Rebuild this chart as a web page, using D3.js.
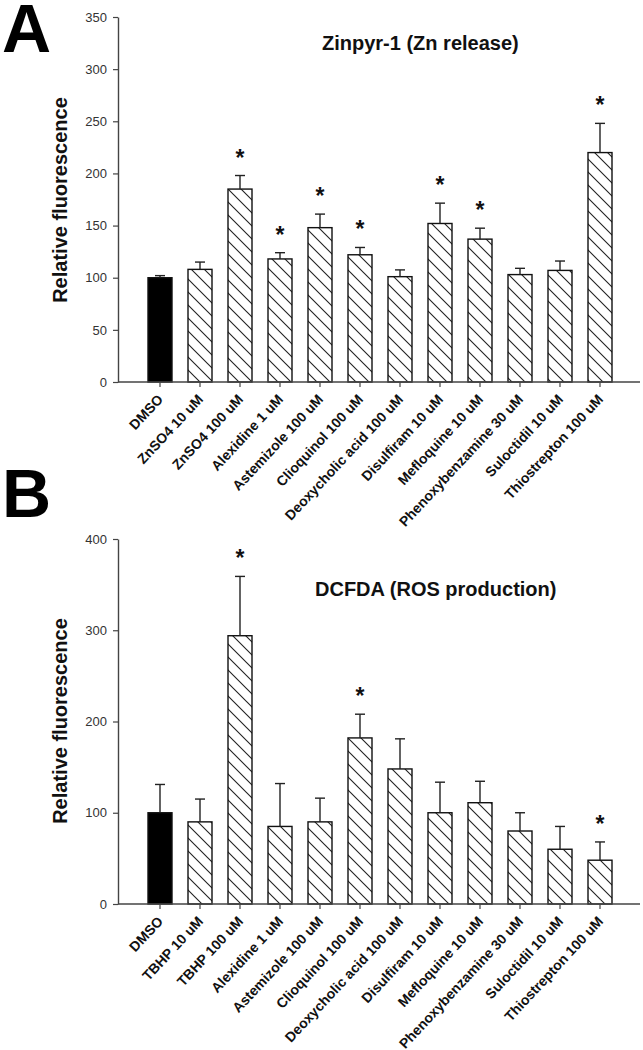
<!DOCTYPE html>
<html>
<head>
<meta charset="utf-8">
<script src="https://cdn.jsdelivr.net/npm/d3@7"></script>
<style>
  html, body { margin: 0; padding: 0; background: #fff; }
  svg { display: block; font-family: "Liberation Sans", Arial, sans-serif; }
</style>
</head>
<body>
<svg id="chart" width="643" height="1050"></svg>
<script>
// ---------- DATA ----------
const categoriesA = ["DMSO", "ZnSO4 10 uM", "ZnSO4 100 uM", "Alexidine 1 uM", "Astemizole 100 uM",
  "Clioquinol 100 uM", "Deoxycholic acid 100 uM", "Disulfiram 10 uM", "Mefloquine 10 uM",
  "Phenoxybenzamine 30 uM", "Suloctidil 10 uM", "Thiostrepton 100 uM"];
const valuesA = [100, 108, 185, 118, 148, 122, 101, 152, 137, 103, 107, 220];
const errorsA = [2, 7, 13, 6, 13, 7, 6.5, 19.5, 10.5, 6, 9, 28];
const sigA = [false, false, true, true, true, true, false, true, true, false, false, true];
const ticksA = [0, 50, 100, 150, 200, 250, 300, 350];
const titleA = "Zinpyr-1 (Zn release)";

const categoriesB = ["DMSO", "TBHP 10 uM", "TBHP 100 uM", "Alexidine 1 uM", "Astemizole 100 uM",
  "Clioquinol 100 uM", "Deoxycholic acid 100 uM", "Disulfiram 10 uM", "Mefloquine 10 uM",
  "Phenoxybenzamine 30 uM", "Suloctidil 10 uM", "Thiostrepton 100 uM"];
const valuesB = [100, 90, 294, 85, 90, 182, 148, 100, 111, 80, 60, 48];
const errorsB = [31, 25, 65, 47, 26, 26, 33, 33.5, 23.5, 20, 25, 20];
const sigB = [false, false, true, false, false, true, false, false, false, false, false, true];
const ticksB = [0, 100, 200, 300, 400];
const titleB = "DCFDA (ROS production)";

const yLabel = "Relative fluorescence";

// ---------- DRAW ----------
const svg = d3.select("#chart");
const defs = svg.append("defs");
const pat = defs.append("pattern")
  .attr("id", "hatch")
  .attr("patternUnits", "userSpaceOnUse")
  .attr("width", 13).attr("height", 13);
pat.append("rect").attr("width", 13).attr("height", 13).attr("fill", "#fff");
pat.append("path")
  .attr("d", "M-2,-2 L15,15 M-2,11 L2,15 M11,-2 L15,2")
  .attr("stroke", "#222").attr("stroke-width", 1.1).attr("fill", "none");

function panel(opts) {
  const { cats, vals, errs, sig, ticks, title, letter, yMax,
          top, bottom, titleX, titleY, labelY, letterY } = opts;
  const axisX = 118, axisRight = 640;
  const g = svg.append("g");

  const y = d3.scaleLinear().domain([0, yMax]).range([bottom, top]);
  const x = d3.scaleBand().domain(cats).range([140, 620]).paddingInner(0.4).paddingOuter(0.2);
  const cx = (d) => x(d) + x.bandwidth() / 2;

  // bars
  g.selectAll("rect.bar").data(cats).enter().append("rect")
    .attr("class", "bar")
    .attr("x", (d) => cx(d) - 12)
    .attr("width", 24)
    .attr("y", (d, i) => y(vals[i]))
    .attr("height", (d, i) => y(0) - y(vals[i]))
    .attr("fill", (d, i) => i === 0 ? "#000" : "url(#hatch)")
    .attr("stroke", "#111").attr("stroke-width", 1.4);

  // error bars (upper only)
  const eb = g.selectAll("g.err").data(cats).enter().append("g").attr("class", "err");
  eb.append("line")
    .attr("x1", cx).attr("x2", cx)
    .attr("y1", (d, i) => y(vals[i])).attr("y2", (d, i) => y(vals[i] + errs[i]))
    .attr("stroke", "#222").attr("stroke-width", 1.4);
  eb.append("line")
    .attr("x1", (d) => cx(d) - 5).attr("x2", (d) => cx(d) + 5)
    .attr("y1", (d, i) => y(vals[i] + errs[i])).attr("y2", (d, i) => y(vals[i] + errs[i]))
    .attr("stroke", "#222").attr("stroke-width", 1.4);

  // significance stars
  g.selectAll("text.star").data(cats.filter((d, i) => sig[i])).enter().append("text")
    .attr("class", "star")
    .attr("x", cx)
    .attr("y", (d) => { const i = cats.indexOf(d); return y(vals[i] + errs[i]) - 10; })
    .attr("text-anchor", "middle")
    .attr("font-size", 23).attr("font-weight", "bold").attr("fill", "#111")
    .text("*");

  // y axis
  const ya = g.append("g").attr("transform", `translate(${axisX},0)`)
    .call(d3.axisLeft(y).tickValues(ticks).tickSize(5).tickPadding(6).tickSizeOuter(0));
  ya.select(".domain").attr("stroke", "#444").attr("stroke-width", 1.4);
  ya.selectAll(".tick line").attr("stroke", "#444").attr("stroke-width", 1.2);
  ya.selectAll(".tick text").attr("font-size", 13).attr("fill", "#333")
    .attr("font-family", "Liberation Sans, Arial, sans-serif");

  // x axis
  const xa = g.append("g").attr("transform", `translate(0,${bottom})`)
    .call(d3.axisBottom(x).tickSize(5).tickFormat(""));
  xa.select(".domain").remove();
  xa.selectAll(".tick line").attr("stroke", "#444").attr("stroke-width", 1.2);
  g.append("line").attr("x1", axisX).attr("x2", axisRight)
    .attr("y1", bottom).attr("y2", bottom)
    .attr("stroke", "#444").attr("stroke-width", 1.4);

  g.selectAll("text.xl").data(cats).enter().append("text")
    .attr("class", "xl")
    .attr("transform", (d) => `translate(${cx(d) + 4},${bottom + 18}) rotate(-47)`)
    .attr("text-anchor", "end")
    .attr("font-size", 14).attr("font-weight", "bold").attr("fill", "#111")
    .text((d) => d);

  // y label
  g.append("text")
    .attr("transform", `translate(67,${labelY}) rotate(-90)`)
    .attr("text-anchor", "middle")
    .attr("font-size", 20).attr("font-weight", "bold").attr("fill", "#111")
    .text(yLabel);

  // title
  g.append("text").attr("x", titleX).attr("y", titleY)
    .attr("font-size", 20).attr("font-weight", "bold").attr("fill", "#111")
    .text(title);

  // panel letter
  g.append("text").attr("x", 2).attr("y", letterY)
    .attr("font-size", 68).attr("font-weight", "bold").attr("fill", "#000")
    .text(letter);
}

panel({ cats: categoriesA, vals: valuesA, errs: errorsA, sig: sigA, ticks: ticksA,
  title: titleA, letter: "A", yMax: 350, top: 17, bottom: 382,
  titleX: 322, titleY: 50, labelY: 200, letterY: 52 });

panel({ cats: categoriesB, vals: valuesB, errs: errorsB, sig: sigB, ticks: ticksB,
  title: titleB, letter: "B", yMax: 400, top: 539, bottom: 904,
  titleX: 315, titleY: 596, labelY: 721, letterY: 517 });
</script>
</body>
</html>
